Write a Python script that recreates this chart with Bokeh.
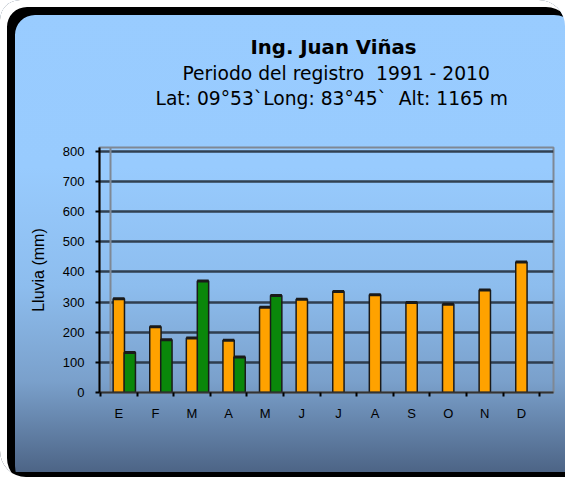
from bokeh.plotting import figure
from bokeh.models import Range1d, FixedTicker, Title, Span
from bokeh.embed import file_html
from bokeh.resources import INLINE

# ---- data ----
months = ["E", "F", "M", "A", "M", "J", "J", "A", "S", "O", "N", "D"]
lluvia_promedio = [311, 218, 181, 173, 283, 309, 335, 324, 298, 293, 340, 433]
lluvia_verde = [133, 175, 370, 118, 322]
y_ticks = [0, 100, 200, 300, 400, 500, 600, 700, 800]

NB = "\u00a0"
title_main = "Ing. Juan Viñas"
title_sub1 = "Periodo del registro" + NB + " 1991 - 2010"
title_sub2 = "Lat: 09°53`Long: 83°45`" + NB + " Alt: 1165 m"
y_label = "Lluvia (mm)"

# ---- layout constants ----
W, H = 565, 477
BL, BR, BT, BB = 99, 12, 147, 85
frame_w = W - BL - BR
frame_h = H - BT - BB
cat_px = 36.6
px_per_unit = 0.3016
x0 = -0.5 - 1.0 / cat_px
x1 = x0 + frame_w / cat_px
y1 = frame_h / px_per_unit
bar_w = 0.31

xs = list(range(len(months)))
xs_green = [i + 0.3 for i in range(len(lluvia_verde))]

p = figure(width=W, height=H, output_backend="svg", toolbar_location=None,
           x_range=Range1d(x0, x1), y_range=Range1d(0, y1),
           min_border_left=BL, min_border_right=BR,
           min_border_top=BT, min_border_bottom=BB)

p.background_fill_alpha = 0
p.border_fill_alpha = 0
p.outline_line_color = "#7f8894"
p.outline_line_width = 2
p.styles = {
    "background": ("linear-gradient(0deg, #000000 0px, #000000 5px, rgba(0,0,0,0) 5px), "
                   "linear-gradient(180deg, #99ccff 0%, #98cbfe 35%, #8dbdee 60%, #7aa0cb 80%, #4a6182 100%)"),
    "border-radius": "20px 26px 0px 26px",
    "box-shadow": "inset 7px 7px 0 0 #ffffff, inset 15px 15px 0 0 #000000",
}

# back wall left edge
wall = Span(location=x0 + 11.0 / cat_px, dimension="height",
            line_color="#7f8894", line_width=2, level="underlay")
p.add_layout(wall)

# grid
p.xgrid.visible = False
p.ygrid.ticker = FixedTicker(ticks=y_ticks[1:])
p.ygrid.grid_line_color = "#26323f"
p.ygrid.grid_line_width = 2.6
p.ygrid.grid_line_alpha = 0.9

# bars
p.vbar(x=xs, top=lluvia_promedio, bottom=0, width=bar_w,
       fill_color="#ffa200", line_color="#1a1a1a", line_width=1.5)
p.vbar(x=xs_green, top=lluvia_verde, bottom=0, width=bar_w,
       fill_color="#0a870a", line_color="#1a1a1a", line_width=1.5)
# dark caps on the bar tops (3-D look)
p.segment(x0=[x - bar_w / 2 for x in xs], x1=[x + bar_w / 2 for x in xs],
          y0=lluvia_promedio, y1=lluvia_promedio, line_color="#1a1a1a", line_width=3)
p.segment(x0=[x - bar_w / 2 for x in xs_green], x1=[x + bar_w / 2 for x in xs_green],
          y0=lluvia_verde, y1=lluvia_verde, line_color="#1a1a1a", line_width=3)

# y axis
ya = p.yaxis[0]
ya.ticker = FixedTicker(ticks=y_ticks)
ya.axis_line_color = "#000000"
ya.axis_line_width = 2
ya.major_tick_out = 4
ya.major_tick_in = 0
ya.major_tick_line_color = "#000000"
ya.major_tick_line_width = 2
ya.minor_tick_line_color = None
ya.major_label_text_font = "Liberation Sans"
ya.major_label_text_font_size = "13px"
ya.major_label_text_color = "#000000"
ya.major_label_standoff = 11
ya.axis_label = y_label
ya.axis_label_text_font = "Liberation Sans"
ya.axis_label_text_font_size = "16px"
ya.axis_label_text_font_style = "normal"
ya.axis_label_text_color = "#000000"
ya.axis_label_standoff = 13

# x axis
xa = p.xaxis[0]
xa.ticker = FixedTicker(ticks=xs, minor_ticks=[i - 0.5 for i in range(len(months) + 1)])
xa.major_label_overrides = {i: m for i, m in enumerate(months)}
xa.axis_line_color = "#333333"
xa.axis_line_width = 2
xa.major_tick_line_color = None
xa.major_tick_out = 4
xa.major_tick_in = 0
xa.minor_tick_line_color = "#000000"
xa.minor_tick_line_width = 2
xa.minor_tick_out = 4
xa.minor_tick_in = 0
xa.major_label_text_font = "Liberation Sans"
xa.major_label_text_font_size = "13px"
xa.major_label_text_color = "#000000"
xa.major_label_standoff = 9

# titles (added nearest-to-frame first)
spacer = Title(text=" ", standoff=15, text_font="DejaVu Sans", text_font_size="18px")
t3 = Title(text=title_sub2, align="left", offset=56, standoff=2,
           text_font="DejaVu Sans", text_font_size="18.7px",
           text_font_style="normal", text_color="#000000")
t2 = Title(text=title_sub1, align="left", offset=83, standoff=2,
           text_font="DejaVu Sans", text_font_size="18.7px",
           text_font_style="normal", text_color="#000000")
t1 = Title(text=title_main, align="left", offset=151, standoff=1,
           text_font="DejaVu Sans", text_font_size="19.7px",
           text_font_style="bold", text_color="#000000")
p.add_layout(spacer, "above")
p.add_layout(t3, "above")
p.add_layout(t2, "above")
p.add_layout(t1, "above")

open("out.html", "w").write(file_html(p, INLINE))
